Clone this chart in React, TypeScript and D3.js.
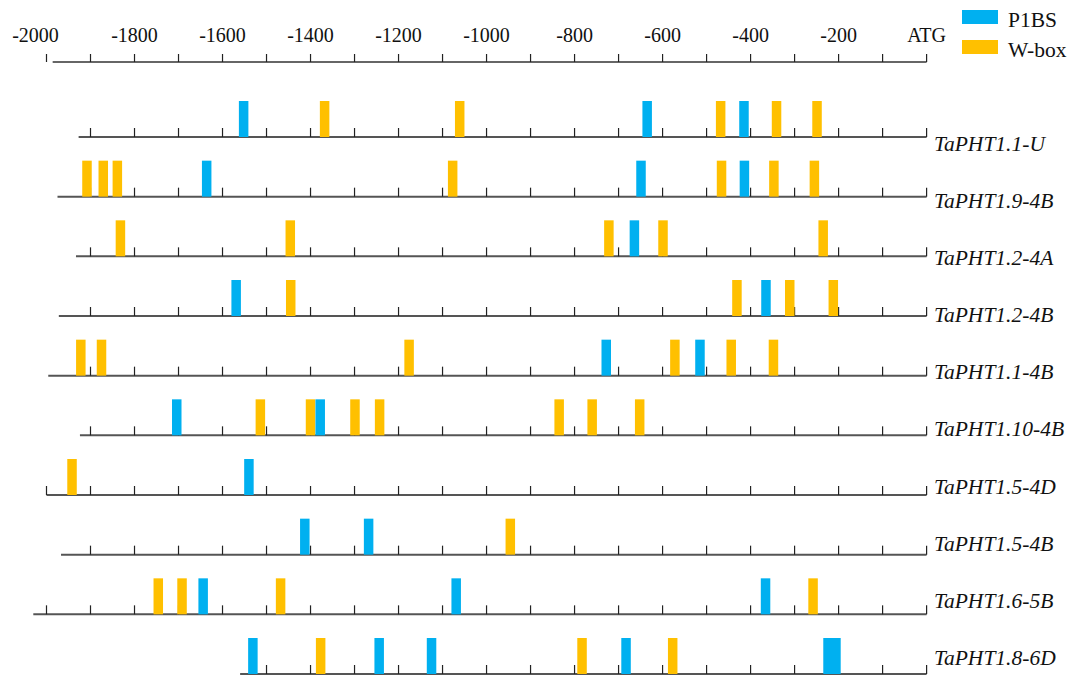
import * as d3 from "d3";

// promoter sites, positions in bp upstream of ATG
const genes = [
  "TaPHT1.1-U",
  "TaPHT1.9-4B",
  "TaPHT1.2-4A",
  "TaPHT1.2-4B",
  "TaPHT1.1-4B",
  "TaPHT1.10-4B",
  "TaPHT1.5-4D",
  "TaPHT1.5-4B",
  "TaPHT1.6-5B",
  "TaPHT1.8-6D",
];

const promoterStart = [-1927, -1975, -1933, -1972, -1996, -1924, -2000, -1967, -2030, -1560];

const p1bsSites = [
  [-1552, -635, -415],
  [-1636, -649, -414],
  [-664],
  [-1569, -365],
  [-728, -515],
  [-1704, -1378],
  [-1540],
  [-1413, -1268],
  [-1644, -1069, -366],
  [-1531, -1244, -1125, -683, -224, -206],
];

const wboxSites = [
  [-1368, -1061, -468, -341, -249],
  [-1908, -1871, -1839, -1077, -466, -347, -255],
  [-1832, -1446, -722, -599, -235],
  [-1445, -431, -311, -212],
  [-1922, -1875, -1176, -572, -444, -348],
  [-1514, -1400, -1299, -1243, -835, -760, -652],
  [-1942],
  [-946],
  [-1746, -1692, -1468, -258],
  [-1377, -783, -577],
];

const axisLabelValues = [-2000, -1800, -1600, -1400, -1200, -1000, -800, -600, -400, -200, 0];
const axisLabels = ["-2000", "-1800", "-1600", "-1400", "-1200", "-1000", "-800", "-600", "-400", "-200", "ATG"];

const legendItems = ["P1BS", "W-box"];

const WIDTH = 1077;
const HEIGHT = 677;
const BLUE = "#00b0f0";
const YELLOW = "#ffc000";
const FONT = "'Liberation Serif', 'Times New Roman', serif";

export default function App() {
  const x = d3.scaleLinear().domain([-2000, 0]).range([46.5, 926.6]);
  const rowY = d3.scalePoint().domain(genes).range([137, 674]);
  const labelY = d3.scalePoint().domain(genes).range([150.5, 665]);
  const legendY = d3.scalePoint().domain(legendItems).range([10, 40]);
  const color = d3.scaleOrdinal<string, string>().domain(legendItems).range([BLUE, YELLOW]);

  const axisY = 62;
  const tickLen = 9;
  const barW = 9.5;
  const barH = 36;
  const topTicks = d3.range(-2000, 1, 100);

  const rows = genes.map((g, i) => ({
    gene: g,
    start: promoterStart[i],
    ticks: d3.range(Math.ceil(promoterStart[i] / 100) * 100, 1, 100),
    wbox: wboxSites[i],
    p1bs: p1bsSites[i],
  }));

  return (
    <svg
      width={WIDTH}
      height={HEIGHT}
      style={{ position: "absolute", left: 0, top: 0, background: "white", fontFamily: FONT }}
    >
      {/* top scale, the -2000 tick sits a little apart from the line */}
      <g className="top-axis">
        <line x1={x(-1986)} x2={x(0)} y1={axisY} y2={axisY} stroke="#333" strokeWidth={1.5} />
        {topTicks.map((t) => (
          <line key={t} x1={x(t)} x2={x(t)} y1={axisY} y2={axisY - tickLen + 1} stroke="#222" strokeWidth={1.2} />
        ))}
        {axisLabelValues.map((v, i) => (
          <text key={v} x={x(v)} dx={v === -2000 ? -11 : 0} y={42} textAnchor="middle" fontSize={20} fill="#111">
            {axisLabels[i]}
          </text>
        ))}
      </g>

      {/* legend */}
      <g className="legend">
        {legendItems.map((name) => (
          <g key={name}>
            <rect x={962} y={legendY(name)} width={36} height={14} fill={color(name)} />
            <text x={1008} y={(legendY(name) as number) + 16.5} fontSize={21.5} fill="#111">
              {name}
            </text>
          </g>
        ))}
      </g>

      {/* promoter rows */}
      {rows.map((r) => {
        const y = rowY(r.gene) as number;
        return (
          <g key={r.gene}>
            <line x1={x(r.start)} x2={x(0)} y1={y} y2={y} stroke="#555" strokeWidth={2} />
            {r.ticks.map((t) => (
              <line key={t} x1={x(t)} x2={x(t)} y1={y} y2={y - tickLen} stroke="#222" strokeWidth={1.2} />
            ))}
            {r.wbox.map((s, j) => (
              <rect key={"w" + j} x={x(s) - barW / 2} y={y - barH} width={barW} height={barH} fill={YELLOW} />
            ))}
            {r.p1bs.map((s, j) => (
              <rect key={"p" + j} x={x(s) - barW / 2} y={y - barH} width={barW} height={barH} fill={BLUE} />
            ))}
            <text x={934} y={labelY(r.gene)} fontSize={21.5} fontStyle="italic" fill="#111">
              {r.gene}
            </text>
          </g>
        );
      })}
    </svg>
  );
}
